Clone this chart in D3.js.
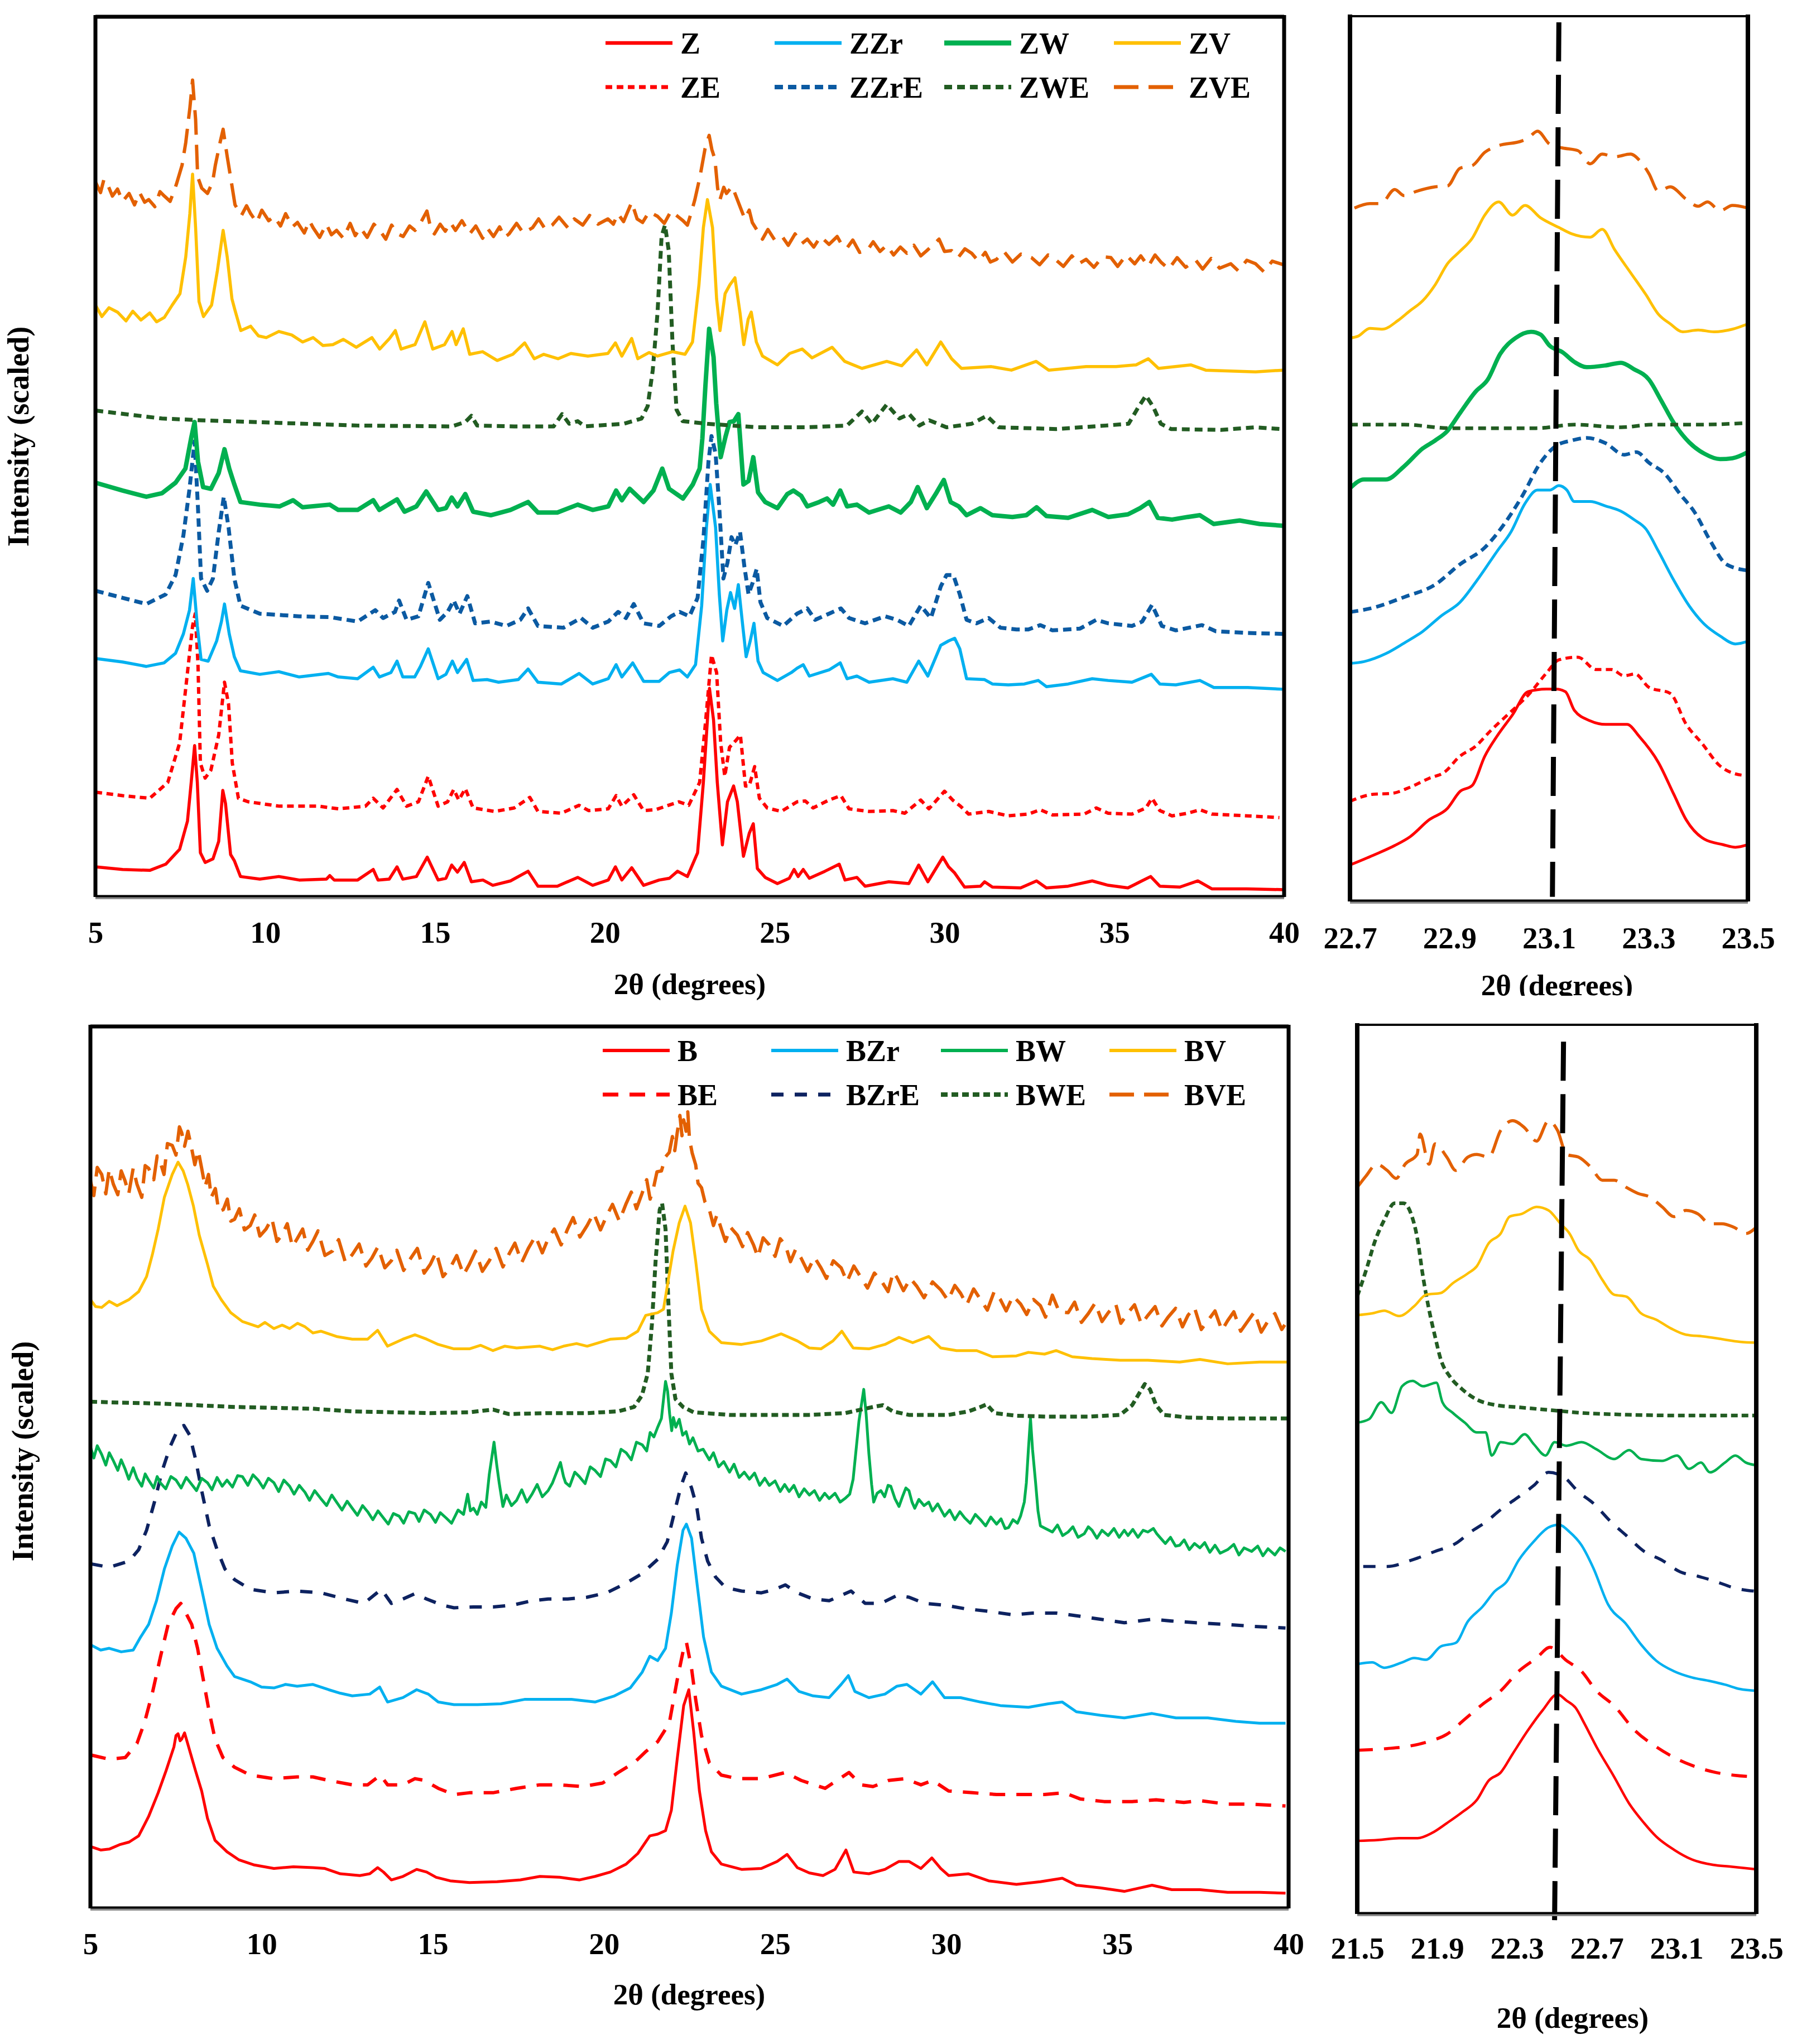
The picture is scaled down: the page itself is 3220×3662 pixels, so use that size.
<!DOCTYPE html>
<html>
<head>
<meta charset="utf-8">
<script src="https://cdn.jsdelivr.net/npm/d3@7"></script>
<style>
  body { margin: 0; background: #fff; }
  svg text { font-family: "Liberation Serif", "Times New Roman", serif; font-weight: bold; fill: #000; }
</style>
</head>
<body>
<svg id="chart" width="3220" height="3662"></svg>
<script>
// ---------------------------------------------
// DATA  (x = 2theta in degrees, y = scaled intensity, 0..100 of the panel height)
// ---------------------------------------------
const TICKS_WIDE = [5, 10, 15, 20, 25, 30, 35, 40];
const TICKS_ZOOM_Z = [22.7, 22.9, 23.1, 23.3, 23.5];
const TICKS_ZOOM_B = [21.5, 21.9, 22.3, 22.7, 23.1, 23.5];

const LEGEND_Z = ["Z", "ZZr", "ZW", "ZV", "ZE", "ZZrE", "ZWE", "ZVE"];
const LEGEND_B = ["B", "BZr", "BW", "BV", "BE", "BZrE", "BWE", "BVE"];

// --- Z family, full range
const Z = [[5.0,3.3],[5.8,3.0],[6.6,2.9],[7.07,3.6],[7.48,5.3],[7.71,8.5],[7.82,12.9],[7.92,17.1],[8.0,12.9],[8.09,4.9],[8.23,3.8],[8.46,4.2],[8.63,6.2],[8.75,12.0],[8.83,10.5],[8.98,4.7],[9.09,4.0],[9.27,2.2],[9.84,1.9],[10.4,2.2],[11.0,1.8],[11.8,1.9],[11.9,2.3],[12.03,1.8],[12.72,1.8],[13.18,3.0],[13.32,1.8],[13.65,1.9],[13.88,3.3],[14.05,1.9],[14.45,2.2],[14.77,4.4],[15.09,1.8],[15.32,2.0],[15.49,3.5],[15.66,2.7],[15.86,3.8],[16.07,1.6],[16.41,1.8],[16.7,1.2],[17.22,1.7],[17.74,2.8],[18.03,1.1],[18.6,1.1],[19.2,2.1],[19.64,1.2],[20.1,1.8],[20.31,3.3],[20.5,1.8],[20.79,3.2],[21.14,1.2],[21.6,1.8],[21.9,2.0],[22.14,2.8],[22.43,2.2],[22.73,4.9],[22.9,12.9],[23.08,23.6],[23.2,20.0],[23.31,12.9],[23.46,5.8],[23.61,10.7],[23.79,12.5],[23.9,10.7],[24.08,4.5],[24.25,7.1],[24.37,8.2],[24.49,3.1],[24.72,2.1],[25.08,1.4],[25.43,2.0],[25.57,3.0],[25.69,2.2],[25.84,3.0],[26.02,2.0],[26.48,2.8],[26.9,3.6],[27.07,1.8],[27.42,2.1],[27.66,1.1],[28.36,1.6],[28.95,1.4],[29.24,3.5],[29.51,1.6],[29.95,4.4],[30.12,3.3],[30.3,2.6],[30.59,1.0],[31.06,1.1],[31.18,1.6],[31.41,1.0],[32.24,0.9],[32.71,1.7],[33.0,0.9],[33.64,1.1],[34.35,1.7],[34.82,1.2],[35.4,0.9],[35.76,1.6],[36.07,2.2],[36.34,1.1],[36.93,1.0],[37.46,1.7],[37.87,0.8],[38.9,0.8],[40.0,0.7]];

const ZE = [[5.0,11.8],[5.8,11.4],[6.6,11.1],[7.13,12.9],[7.48,17.4],[7.71,25.4],[7.86,30.7],[7.94,32.1],[8.02,26.3],[8.09,15.1],[8.23,13.4],[8.4,14.3],[8.63,18.3],[8.8,24.3],[8.92,21.8],[9.03,15.1],[9.21,11.1],[9.5,10.7],[10.42,10.2],[11.57,10.2],[12.15,9.9],[12.95,10.2],[13.18,11.1],[13.47,10.0],[13.88,12.1],[14.16,10.2],[14.51,10.7],[14.8,13.6],[15.09,10.2],[15.37,10.7],[15.55,12.1],[15.7,10.9],[15.89,12.2],[16.12,10.0],[16.76,9.6],[17.33,10.0],[17.79,11.2],[18.03,9.6],[18.72,9.4],[19.24,10.3],[19.52,9.7],[20.1,9.9],[20.33,11.4],[20.5,10.2],[20.85,11.5],[21.14,9.7],[21.49,9.8],[22.18,10.7],[22.47,10.3],[22.79,12.9],[22.96,19.6],[23.14,27.4],[23.29,25.4],[23.41,17.4],[23.53,13.6],[23.67,16.9],[23.84,17.6],[23.99,18.3],[24.14,12.5],[24.25,12.5],[24.41,14.7],[24.55,11.1],[24.78,10.0],[25.19,9.6],[25.66,10.7],[25.9,10.8],[26.13,10.0],[26.6,10.9],[26.95,11.4],[27.19,9.9],[27.78,9.6],[28.48,9.7],[28.83,9.4],[29.3,10.9],[29.54,9.9],[30.0,11.9],[30.24,10.9],[30.47,10.2],[30.71,9.3],[31.3,9.6],[31.88,9.1],[32.47,9.3],[32.82,9.8],[33.18,9.2],[34.11,9.3],[34.47,10.0],[34.82,9.4],[35.52,9.3],[35.93,10.0],[36.11,11.1],[36.34,9.7],[36.7,9.1],[37.16,9.4],[37.52,9.8],[37.87,9.3],[38.93,9.1],[39.86,8.9]];

const ZZr = [[5.0,27.0],[5.8,26.6],[6.5,26.1],[7.02,26.5],[7.36,27.6],[7.59,29.8],[7.77,32.5],[7.88,36.1],[8.0,30.7],[8.11,26.9],[8.32,26.7],[8.57,29.0],[8.71,31.2],[8.8,33.2],[8.94,29.8],[9.09,27.2],[9.27,25.6],[9.84,25.2],[10.4,25.5],[11.0,24.9],[11.86,25.3],[12.15,24.9],[12.72,24.7],[13.18,26.0],[13.36,24.9],[13.7,25.4],[13.88,26.7],[14.05,24.9],[14.4,24.9],[14.57,26.1],[14.8,28.1],[15.09,24.7],[15.32,25.2],[15.51,26.7],[15.66,25.4],[15.93,26.9],[16.12,24.5],[16.53,24.6],[16.87,24.3],[17.45,24.6],[17.74,25.8],[18.03,24.3],[18.72,24.1],[19.24,25.3],[19.64,24.1],[20.1,24.7],[20.33,26.3],[20.5,24.9],[20.82,26.5],[21.14,24.4],[21.6,24.4],[21.9,25.4],[22.2,25.7],[22.43,24.9],[22.67,26.3],[22.85,33.0],[22.99,41.9],[23.1,46.8],[23.26,41.9],[23.37,34.3],[23.47,29.0],[23.59,32.5],[23.7,34.5],[23.82,32.7],[23.93,35.4],[24.06,30.7],[24.16,27.2],[24.28,29.0],[24.39,31.0],[24.51,26.7],[24.66,25.4],[25.08,24.5],[25.49,25.4],[25.66,25.9],[25.84,26.3],[26.02,25.0],[26.6,25.7],[26.93,26.5],[27.13,24.7],[27.42,25.0],[27.78,24.3],[28.48,24.7],[28.89,24.3],[29.24,26.7],[29.51,25.0],[29.89,28.5],[30.12,29.0],[30.3,29.3],[30.45,28.1],[30.65,24.7],[31.18,24.6],[31.41,24.1],[31.88,24.0],[32.35,24.1],[32.76,24.5],[33.0,23.8],[33.64,24.1],[34.35,24.7],[34.82,24.5],[35.52,24.3],[36.09,25.2],[36.34,24.1],[36.81,24.0],[37.52,24.5],[37.93,23.7],[38.93,23.7],[39.98,23.5]];

const ZZrE = [[5.0,34.7],[5.8,33.9],[6.5,33.2],[7.07,34.3],[7.36,36.5],[7.59,41.0],[7.77,46.3],[7.92,51.7],[8.02,44.1],[8.11,36.1],[8.29,34.7],[8.46,36.1],[8.63,41.4],[8.78,45.4],[8.92,41.9],[9.09,36.1],[9.27,33.0],[9.84,32.1],[11.0,31.8],[11.92,31.7],[12.72,31.2],[13.24,32.5],[13.47,31.6],[13.82,32.3],[13.94,33.6],[14.16,31.4],[14.51,31.8],[14.8,35.6],[15.14,31.4],[15.37,32.3],[15.55,33.6],[15.72,32.1],[15.95,34.1],[16.18,31.0],[16.64,31.2],[17.1,30.7],[17.51,31.4],[17.74,32.7],[18.03,30.7],[18.78,30.5],[19.3,31.6],[19.64,30.5],[20.1,31.2],[20.39,32.3],[20.62,31.6],[20.85,33.2],[21.14,31.0],[21.6,30.7],[21.95,31.8],[22.2,32.3],[22.49,31.8],[22.73,33.9],[22.9,40.5],[23.05,49.4],[23.14,52.3],[23.26,50.3],[23.37,44.1],[23.49,36.1],[23.61,37.9],[23.73,40.8],[23.84,39.9],[23.98,41.4],[24.11,37.4],[24.23,34.3],[24.35,35.6],[24.47,37.2],[24.58,33.4],[24.78,31.6],[25.25,30.7],[25.66,32.1],[25.96,32.7],[26.19,31.4],[26.6,32.1],[26.95,32.7],[27.19,31.6],[27.66,31.0],[28.25,31.8],[28.6,31.4],[28.95,30.7],[29.3,33.0],[29.6,31.6],[29.89,35.2],[30.06,36.5],[30.26,36.5],[30.45,34.3],[30.65,31.4],[30.94,31.0],[31.3,31.6],[31.65,30.5],[32.12,30.3],[32.47,30.3],[32.82,30.8],[33.18,30.2],[33.99,30.4],[34.47,31.4],[34.82,31.0],[35.52,30.7],[35.82,31.2],[36.11,33.1],[36.4,30.7],[36.81,30.2],[37.58,30.8],[37.99,30.1],[38.93,29.9],[39.98,29.8]];

const ZW = [[5.0,47.0],[5.8,46.1],[6.5,45.4],[6.96,45.8],[7.36,47.0],[7.65,48.6],[7.82,52.1],[7.92,53.9],[8.02,49.4],[8.17,46.5],[8.4,46.3],[8.63,48.1],[8.8,50.8],[8.94,48.6],[9.09,46.8],[9.27,44.8],[9.84,44.5],[10.42,44.3],[10.82,45.0],[11.1,44.2],[11.9,44.5],[12.15,43.9],[12.72,43.9],[13.18,45.0],[13.36,43.9],[13.88,45.1],[14.1,43.7],[14.45,44.3],[14.74,46.0],[15.09,43.9],[15.32,44.1],[15.49,45.3],[15.66,44.3],[15.89,45.7],[16.12,43.7],[16.64,43.3],[17.22,43.9],[17.74,44.8],[18.03,43.6],[18.6,43.6],[19.2,44.5],[19.64,43.9],[20.1,44.3],[20.33,46.1],[20.5,45.0],[20.73,46.3],[21.14,44.8],[21.43,46.1],[21.69,48.6],[21.89,46.3],[22.3,45.2],[22.59,46.8],[22.79,48.6],[22.87,52.0],[22.96,58.0],[23.07,64.5],[23.2,61.3],[23.28,56.0],[23.41,49.9],[23.55,52.2],[23.67,53.9],[23.8,54.0],[23.93,54.8],[24.08,46.8],[24.23,47.2],[24.37,49.9],[24.51,45.9],[24.72,44.8],[25.08,44.1],[25.37,45.7],[25.55,46.1],[25.78,45.5],[25.96,44.3],[26.31,44.8],[26.54,45.2],[26.72,44.5],[26.93,46.1],[27.13,44.3],[27.42,44.5],[27.78,43.6],[28.36,44.3],[28.71,43.6],[29.01,44.8],[29.21,46.5],[29.48,44.1],[29.77,45.9],[29.98,47.3],[30.18,44.8],[30.42,44.3],[30.65,43.3],[31.06,44.1],[31.41,43.3],[32.0,43.1],[32.41,43.3],[32.71,44.2],[33.0,43.2],[33.64,43.0],[34.35,43.9],[34.82,43.1],[35.4,43.4],[35.76,44.1],[36.03,44.8],[36.28,43.0],[36.7,42.8],[37.16,43.1],[37.52,43.3],[37.93,42.3],[38.69,42.7],[39.28,42.3],[39.98,42.1]];

const ZWE = [[5.0,55.2],[6.96,54.3],[8.11,54.1],[10.42,53.8],[12.72,53.5],[15.49,53.4],[15.89,53.9],[16.07,54.6],[16.24,53.5],[17.33,53.4],[18.49,53.4],[18.74,54.8],[18.95,53.7],[19.2,54.0],[19.41,53.4],[20.56,53.7],[21.08,54.3],[21.26,55.7],[21.41,59.8],[21.55,66.3],[21.67,75.0],[21.77,76.3],[21.88,73.4],[21.99,63.0],[22.11,55.3],[22.29,54.0],[23.02,53.7],[24.49,53.3],[25.96,53.3],[27.13,53.5],[27.57,55.1],[27.86,53.7],[28.3,55.9],[28.67,54.3],[28.96,54.8],[29.26,53.5],[29.55,54.1],[30.06,53.3],[30.8,53.7],[31.24,54.6],[31.6,53.3],[33.29,53.1],[34.76,53.5],[35.42,53.7],[35.71,55.6],[35.93,56.9],[36.15,55.6],[36.37,53.7],[36.67,53.1],[38.13,53.0],[39.16,53.3],[39.9,53.1]];

const ZV = [[5.0,67.2],[5.19,65.9],[5.4,66.9],[5.65,66.4],[5.9,65.4],[6.1,66.5],[6.34,65.5],[6.6,66.3],[6.8,65.3],[7.03,65.8],[7.26,67.2],[7.49,68.5],[7.66,72.7],[7.78,77.6],[7.86,82.1],[7.95,76.0],[8.05,67.6],[8.18,65.9],[8.42,67.2],[8.59,71.1],[8.76,75.7],[8.88,72.7],[9.02,67.9],[9.11,66.6],[9.28,64.3],[9.57,64.8],[9.8,63.7],[10.03,63.5],[10.4,64.2],[10.78,63.8],[11.1,63.0],[11.41,63.5],[11.7,62.6],[11.99,62.7],[12.3,63.3],[12.68,62.4],[13.14,63.5],[13.37,62.2],[13.66,63.4],[13.83,64.3],[14.0,62.2],[14.41,62.7],[14.7,65.3],[14.93,62.2],[15.28,62.7],[15.5,64.2],[15.62,62.7],[15.83,64.5],[16.02,61.6],[16.4,61.9],[16.83,60.9],[17.29,61.6],[17.64,62.9],[17.92,61.1],[18.2,61.6],[18.62,61.1],[19.0,61.7],[19.5,61.4],[20.09,61.7],[20.31,62.9],[20.5,61.4],[20.79,63.4],[20.97,61.1],[21.3,61.8],[21.55,61.4],[21.99,61.9],[22.36,61.6],[22.58,63.0],[22.77,69.5],[22.9,76.0],[23.02,79.2],[23.17,76.0],[23.29,67.9],[23.39,64.3],[23.54,68.5],[23.68,69.5],[23.83,70.3],[23.98,66.3],[24.09,62.7],[24.22,65.6],[24.31,66.4],[24.46,63.0],[24.64,61.4],[25.08,60.4],[25.44,61.7],[25.81,62.2],[26.1,61.2],[26.69,62.4],[27.06,60.8],[27.57,60.0],[28.3,60.8],[28.74,60.3],[29.18,62.1],[29.48,60.4],[29.89,63.0],[30.21,61.1],[30.5,60.0],[31.38,60.2],[31.97,59.8],[32.7,60.8],[33.07,59.8],[34.17,60.2],[35.05,60.2],[35.64,60.4],[36.0,61.1],[36.3,60.0],[37.25,60.4],[37.69,59.8],[39.16,59.6],[39.97,59.8]];

const ZVE = [[5.0,81.2],[5.15,80.0],[5.25,81.5],[5.36,80.9],[5.5,79.6],[5.65,80.4],[5.8,79.0],[5.99,79.9],[6.15,78.6],[6.3,80.0],[6.45,78.9],[6.57,79.2],[6.75,78.4],[6.9,80.1],[7.03,79.6],[7.2,79.0],[7.38,80.9],[7.55,83.1],[7.66,85.7],[7.78,89.6],[7.86,92.8],[7.95,88.3],[8.01,81.8],[8.13,80.5],[8.3,79.9],[8.45,81.2],[8.53,83.1],[8.67,85.7],[8.76,87.2],[8.88,84.1],[8.99,81.5],[9.11,78.6],[9.3,77.4],[9.45,78.5],[9.57,77.6],[9.75,76.6],[9.9,78.0],[10.1,76.8],[10.26,77.3],[10.45,76.2],[10.6,77.6],[10.8,76.1],[10.95,76.6],[11.15,75.4],[11.3,76.8],[11.41,76.0],[11.6,74.9],[11.8,76.4],[11.95,75.2],[12.1,75.7],[12.3,74.8],[12.5,76.5],[12.65,75.1],[12.8,76.0],[13.0,74.9],[13.2,76.4],[13.37,75.7],[13.55,74.7],[13.72,76.3],[13.9,75.3],[14.06,75.0],[14.25,76.2],[14.41,75.7],[14.58,76.6],[14.76,77.9],[14.88,75.8],[14.98,75.3],[15.15,76.4],[15.3,75.6],[15.45,76.6],[15.6,75.7],[15.79,76.8],[16.02,75.3],[16.2,76.2],[16.4,74.8],[16.55,75.9],[16.72,75.0],[16.9,76.1],[17.05,74.9],[17.18,75.3],[17.4,76.5],[17.6,75.4],[17.87,76.0],[18.05,77.0],[18.25,75.8],[18.45,76.3],[18.65,77.2],[18.91,76.0],[19.1,77.0],[19.35,76.3],[19.55,77.4],[19.8,76.4],[20.09,77.0],[20.25,76.4],[20.38,77.6],[20.55,76.7],[20.79,78.9],[20.95,77.0],[21.11,76.6],[21.3,77.8],[21.55,77.3],[21.75,76.5],[21.95,77.9],[22.14,77.3],[22.3,76.8],[22.43,76.3],[22.55,77.8],[22.65,79.2],[22.8,81.8],[22.95,85.0],[23.07,86.5],[23.15,84.9],[23.24,83.8],[23.32,80.5],[23.39,79.2],[23.5,80.6],[23.58,79.9],[23.75,80.7],[23.9,79.2],[24.0,78.2],[24.12,77.0],[24.25,78.0],[24.34,76.6],[24.5,75.6],[24.64,74.7],[24.8,75.8],[25.0,74.6],[25.22,75.0],[25.4,74.0],[25.6,75.3],[25.8,74.2],[25.96,74.7],[26.15,73.8],[26.35,75.0],[26.6,74.1],[26.84,75.0],[27.0,73.9],[27.13,73.7],[27.3,74.6],[27.5,73.2],[27.72,73.4],[27.9,74.4],[28.1,73.3],[28.3,74.0],[28.5,72.9],[28.7,73.8],[28.89,73.1],[29.1,74.0],[29.3,72.8],[29.48,73.4],[29.65,74.0],[29.84,74.7],[30.0,73.3],[30.21,73.4],[30.4,72.6],[30.6,73.6],[30.8,73.1],[31.0,72.2],[31.2,73.2],[31.35,72.1],[31.53,72.4],[31.75,73.3],[32.0,72.1],[32.25,73.0],[32.56,72.6],[32.8,71.8],[33.05,72.9],[33.29,72.3],[33.5,71.6],[33.75,72.8],[33.95,71.9],[34.17,72.4],[34.4,71.5],[34.65,72.7],[34.9,72.6],[35.1,71.6],[35.35,72.9],[35.6,71.9],[35.78,72.8],[36.0,71.6],[36.2,72.9],[36.37,72.1],[36.6,71.3],[36.85,72.6],[37.1,71.5],[37.4,72.3],[37.6,71.3],[37.85,72.5],[38.1,71.4],[38.43,71.9],[38.65,71.1],[38.9,72.3],[39.16,71.9],[39.4,71.0],[39.65,72.2],[39.97,71.8]];

// --- Z family, 22.7-23.5 close-up
const Z_ZOOM = [[22.7,4.0],[22.747,5.1],[22.79,6.2],[22.821,7.2],[22.859,9.1],[22.896,10.4],[22.921,12.3],[22.946,13.0],[22.971,16.3],[22.996,18.6],[23.027,21.0],[23.058,23.6],[23.095,23.9],[23.114,23.9],[23.133,23.6],[23.151,21.5],[23.183,20.3],[23.214,19.9],[23.257,19.9],[23.282,18.5],[23.32,15.6],[23.351,12.0],[23.376,9.1],[23.413,6.9],[23.45,6.3],[23.475,6.0],[23.5,6.3]];
const ZE_ZOOM = [[22.7,11.2],[22.747,12.0],[22.784,12.1],[22.821,12.8],[22.859,13.8],[22.89,14.5],[22.921,16.3],[22.952,17.4],[22.983,19.2],[23.021,21.2],[23.058,23.2],[23.095,25.7],[23.12,27.2],[23.158,27.5],[23.195,26.1],[23.226,26.1],[23.251,25.4],[23.273,25.6],[23.301,24.1],[23.344,23.4],[23.376,19.9],[23.407,17.8],[23.444,15.2],[23.475,14.3],[23.5,14.1]];
const ZZr_ZOOM = [[22.7,26.8],[22.728,27.0],[22.772,27.9],[22.809,29.1],[22.846,30.4],[22.884,32.2],[22.921,33.7],[22.958,36.4],[22.996,39.5],[23.024,41.7],[23.052,44.9],[23.077,46.4],[23.102,46.4],[23.12,46.9],[23.136,46.4],[23.151,45.1],[23.183,45.1],[23.214,44.6],[23.245,44.0],[23.27,43.1],[23.295,42.0],[23.32,39.5],[23.351,36.2],[23.382,33.3],[23.413,31.2],[23.444,29.9],[23.475,29.0],[23.5,29.3]];
const ZZrE_ZOOM = [[22.7,32.6],[22.747,33.1],[22.809,34.3],[22.871,35.7],[22.921,38.0],[22.971,39.9],[23.008,42.4],[23.046,45.7],[23.083,49.5],[23.114,51.4],[23.145,52.0],[23.176,52.3],[23.214,51.7],[23.251,50.4],[23.276,50.7],[23.301,49.5],[23.332,48.3],[23.363,46.0],[23.394,43.8],[23.425,40.6],[23.457,38.0],[23.5,37.3]];
const ZW_ZOOM = [[22.7,46.6],[22.728,47.6],[22.772,47.6],[22.809,49.1],[22.846,51.1],[22.871,52.0],[22.896,53.1],[22.921,55.1],[22.952,57.5],[22.977,58.9],[23.002,61.8],[23.033,63.6],[23.064,64.3],[23.083,64.0],[23.102,62.7],[23.127,62.0],[23.151,60.9],[23.176,60.3],[23.214,60.5],[23.245,60.8],[23.27,60.1],[23.301,58.9],[23.326,56.5],[23.351,54.0],[23.382,51.8],[23.413,50.5],[23.444,49.9],[23.469,50.0],[23.5,50.7]];
const ZWE_ZOOM = [[22.7,53.8],[22.809,53.8],[22.902,53.4],[23.074,53.4],[23.151,53.8],[23.245,53.5],[23.307,53.8],[23.4,53.8],[23.5,54.0]];
const ZV_ZOOM = [[22.7,63.6],[22.716,63.8],[22.74,64.7],[22.765,64.6],[22.797,65.6],[22.821,66.7],[22.846,67.8],[22.871,69.6],[22.896,72.0],[22.921,73.4],[22.946,74.9],[22.971,77.5],[22.999,79.0],[23.027,77.5],[23.052,78.6],[23.083,77.2],[23.12,76.1],[23.145,75.4],[23.183,75.0],[23.207,75.9],[23.232,73.6],[23.264,71.0],[23.295,68.5],[23.32,66.3],[23.344,65.2],[23.369,64.3],[23.4,64.5],[23.432,64.3],[23.469,64.6],[23.5,65.2]];
const ZVE_ZOOM = [[22.709,78.3],[22.74,78.8],[22.762,78.8],[22.79,80.4],[22.809,79.7],[22.834,80.2],[22.871,80.7],[22.896,80.8],[22.921,82.8],[22.946,83.1],[22.971,84.6],[22.996,85.3],[23.046,85.9],[23.058,86.2],[23.077,87.0],[23.102,85.5],[23.127,85.1],[23.158,84.8],[23.183,83.3],[23.207,84.4],[23.232,84.1],[23.264,84.4],[23.282,83.7],[23.301,82.2],[23.32,80.2],[23.344,80.7],[23.376,79.3],[23.4,78.5],[23.419,79.0],[23.444,78.0],[23.469,78.6],[23.5,78.3]];
const REF_Z = [[23.12, 99.3], [23.107, 0.4]];

// --- B family, full range
const B = [[5.0,6.9],[5.3,6.5],[5.55,6.6],[5.85,7.1],[6.13,7.4],[6.41,8.1],[6.7,10.3],[6.98,13.0],[7.21,15.5],[7.44,18.2],[7.5,19.5],[7.56,19.7],[7.62,18.9],[7.67,19.1],[7.75,19.8],[7.84,18.6],[8.07,15.5],[8.25,13.2],[8.42,10.1],[8.64,7.6],[8.99,6.3],[9.33,5.4],[9.79,4.8],[10.36,4.4],[10.93,4.6],[11.5,4.5],[11.85,4.4],[12.3,3.8],[12.87,3.6],[13.16,3.8],[13.39,4.5],[13.56,4.0],[13.79,3.1],[14.13,3.5],[14.53,4.3],[14.82,4.0],[15.1,3.4],[15.51,3.0],[16.07,2.8],[16.88,2.9],[17.56,3.1],[18.13,3.5],[18.71,3.4],[19.28,3.1],[19.74,3.5],[20.19,4.0],[20.65,4.9],[20.99,6.1],[21.34,8.1],[21.57,8.3],[21.8,8.7],[21.97,11.0],[22.14,16.8],[22.33,22.9],[22.48,24.7],[22.62,20.0],[22.79,13.2],[22.97,8.7],[23.14,6.3],[23.43,4.9],[24.02,4.3],[24.6,4.4],[25.06,5.2],[25.35,6.0],[25.65,4.5],[26.0,3.9],[26.4,3.6],[26.75,4.3],[27.07,6.5],[27.3,4.0],[27.74,3.8],[28.21,4.3],[28.62,5.2],[28.91,5.2],[29.26,4.4],[29.58,5.6],[29.84,4.4],[30.07,3.6],[30.65,3.8],[31.24,3.0],[32.05,2.6],[32.75,2.9],[33.39,3.3],[33.8,2.5],[34.5,2.2],[35.2,1.8],[36.01,2.5],[36.59,2.0],[37.41,2.0],[38.22,1.7],[39.15,1.7],[39.91,1.6]];

const BE = [[5.0,17.3],[5.55,16.8],[6.02,17.0],[6.36,18.6],[6.59,21.1],[6.82,24.5],[7.05,28.5],[7.27,32.1],[7.5,33.9],[7.64,34.5],[7.79,33.4],[7.96,32.1],[8.13,29.4],[8.3,25.8],[8.47,22.2],[8.64,19.1],[8.87,17.0],[9.21,15.9],[9.67,15.0],[10.36,14.6],[11.04,14.8],[11.5,14.8],[11.96,14.4],[12.65,13.9],[13.1,13.9],[13.47,15.0],[13.68,13.9],[14.13,13.9],[14.48,14.6],[14.76,14.4],[15.16,13.5],[15.62,12.8],[16.07,13.0],[16.76,13.0],[17.45,13.5],[18.13,13.9],[18.71,13.9],[19.39,13.7],[19.96,14.1],[20.42,15.3],[20.88,16.4],[21.23,17.7],[21.57,18.8],[21.91,20.9],[22.14,25.8],[22.33,29.4],[22.41,30.1],[22.56,27.1],[22.68,23.6],[22.85,19.5],[23.08,16.4],[23.43,15.0],[23.9,14.6],[24.6,14.6],[25.3,15.3],[25.76,14.4],[26.46,13.5],[26.81,14.4],[27.16,15.3],[27.51,13.9],[27.86,13.7],[28.32,14.4],[28.79,14.6],[29.26,13.9],[29.6,14.4],[30.07,13.2],[30.77,13.0],[31.47,12.8],[32.17,12.8],[32.87,12.8],[33.45,13.0],[33.91,12.3],[34.61,12.0],[35.43,12.0],[36.13,12.2],[36.94,11.9],[37.41,12.1],[38.22,11.7],[38.92,11.7],[39.91,11.5]];

const BZr = [[5.0,29.8],[5.3,29.2],[5.55,29.4],[5.9,29.0],[6.25,29.2],[6.47,30.7],[6.7,32.1],[6.93,34.8],[7.16,38.4],[7.39,41.0],[7.59,42.6],[7.79,41.9],[8.02,40.2],[8.25,36.1],[8.47,32.1],[8.7,29.4],[8.99,27.4],[9.21,26.2],[9.67,25.6],[10.0,25.0],[10.36,24.9],[10.7,25.3],[11.04,25.1],[11.5,25.3],[11.96,24.7],[12.3,24.3],[12.65,24.0],[13.16,24.2],[13.45,25.0],[13.68,23.3],[14.13,23.8],[14.53,24.7],[14.87,24.2],[15.16,23.3],[15.62,23.0],[16.31,23.0],[16.99,23.1],[17.68,23.6],[18.37,23.6],[19.05,23.6],[19.74,23.3],[20.31,24.0],[20.77,24.9],[21.12,26.7],[21.34,28.5],[21.57,28.0],[21.8,29.4],[21.97,33.4],[22.14,38.8],[22.31,42.8],[22.41,43.5],[22.56,41.9],[22.74,36.1],[22.91,30.7],[23.14,26.7],[23.43,25.1],[24.02,24.2],[24.6,24.7],[25.06,25.3],[25.35,25.9],[25.7,24.5],[26.11,24.0],[26.58,23.8],[26.93,25.3],[27.14,26.3],[27.33,24.5],[27.74,23.8],[28.21,24.2],[28.56,25.1],[28.85,25.3],[29.26,24.2],[29.6,25.6],[29.95,23.8],[30.42,23.8],[31.0,23.3],[31.58,22.9],[32.4,22.7],[32.98,23.1],[33.39,23.3],[33.8,22.2],[34.5,21.8],[35.2,21.5],[36.01,22.0],[36.71,21.5],[37.64,21.5],[38.46,21.1],[39.15,20.9],[39.91,20.9]];

const BZrE = [[5.0,39.0],[5.55,38.6],[6.13,39.3],[6.41,40.6],[6.64,42.8],[6.87,46.0],[7.1,49.6],[7.33,52.3],[7.56,54.3],[7.73,54.7],[7.9,53.6],[8.07,50.9],[8.25,47.3],[8.47,43.3],[8.7,40.6],[8.93,38.4],[9.21,37.2],[9.67,36.1],[10.36,35.7],[11.04,35.9],[11.73,35.7],[12.42,35.0],[12.99,34.5],[13.5,36.1],[13.79,34.5],[14.13,35.0],[14.48,35.6],[14.82,35.0],[15.28,34.3],[15.62,34.0],[16.19,34.1],[16.76,34.1],[17.33,34.3],[17.9,34.8],[18.37,35.0],[18.94,35.0],[19.51,35.2],[20.08,35.7],[20.65,36.8],[21.12,37.9],[21.57,39.5],[21.85,41.5],[22.02,44.2],[22.25,47.8],[22.39,49.3],[22.56,47.6],[22.71,45.5],[22.85,41.9],[23.03,39.3],[23.26,37.5],[23.55,36.3],[24.02,35.9],[24.6,35.7],[25.0,36.1],[25.3,36.6],[25.65,35.7],[26.11,35.0],[26.58,34.8],[26.93,35.4],[27.22,35.9],[27.63,34.5],[28.09,34.5],[28.56,35.4],[28.91,35.2],[29.37,34.5],[29.95,34.3],[30.54,33.9],[31.24,33.6],[31.94,33.2],[32.52,33.4],[33.21,33.4],[33.8,33.1],[34.5,32.7],[35.2,32.3],[36.01,32.7],[36.59,32.5],[37.29,32.3],[38.22,32.1],[38.92,31.9],[39.91,31.7]];

const BW = [[5.0,52.3],[5.1,51.0],[5.2,52.4],[5.33,51.4],[5.45,50.2],[5.55,51.6],[5.67,50.7],[5.8,49.6],[5.9,50.8],[6.01,49.8],[6.12,48.6],[6.25,49.9],[6.36,48.7],[6.5,47.8],[6.6,49.2],[6.7,48.5],[6.85,47.6],[6.95,48.9],[7.04,48.2],[7.2,47.5],[7.35,48.9],[7.5,48.5],[7.65,47.6],[7.8,48.8],[7.96,48.0],[8.1,47.3],[8.25,48.7],[8.42,48.2],[8.55,47.4],[8.7,48.8],[8.85,47.8],[8.99,48.5],[9.15,47.7],[9.3,49.0],[9.44,48.9],[9.6,47.9],[9.75,49.1],[9.9,48.5],[10.05,47.6],[10.2,48.7],[10.36,48.2],[10.5,47.2],[10.65,48.5],[10.82,47.8],[10.95,46.9],[11.1,47.9],[11.27,47.1],[11.4,46.2],[11.55,47.3],[11.73,46.4],[11.9,45.6],[12.05,46.8],[12.19,46.0],[12.35,45.1],[12.5,46.1],[12.65,45.3],[12.8,44.5],[12.95,45.6],[13.1,44.9],[13.25,44.0],[13.4,45.0],[13.56,44.2],[13.7,43.5],[13.85,44.7],[14.02,44.4],[14.15,43.6],[14.3,44.9],[14.48,44.7],[14.6,43.8],[14.75,45.1],[14.93,44.6],[15.08,43.7],[15.22,44.8],[15.39,44.2],[15.55,43.6],[15.74,45.1],[15.9,44.6],[16.02,46.9],[16.1,45.0],[16.19,45.3],[16.3,44.6],[16.42,46.0],[16.55,45.4],[16.65,49.1],[16.79,52.8],[16.87,50.2],[16.94,48.2],[17.05,45.5],[17.15,46.8],[17.3,45.6],[17.45,46.2],[17.6,47.4],[17.75,46.0],[17.9,46.9],[18.05,48.0],[18.2,46.6],[18.37,47.3],[18.5,48.2],[18.59,49.1],[18.73,50.5],[18.82,48.9],[18.88,48.2],[19.0,47.8],[19.15,49.4],[19.28,48.9],[19.45,48.1],[19.6,50.0],[19.74,49.6],[19.9,48.9],[20.05,50.9],[20.19,50.7],[20.35,50.0],[20.5,52.0],[20.65,51.6],[20.8,50.8],[20.95,52.8],[21.12,52.5],[21.25,51.8],[21.35,53.9],[21.46,53.4],[21.56,54.4],[21.68,55.5],[21.75,58.0],[21.8,59.7],[21.86,58.6],[21.92,56.0],[21.98,54.1],[22.03,55.6],[22.1,54.5],[22.2,55.4],[22.3,53.6],[22.4,54.0],[22.5,52.6],[22.6,53.3],[22.75,51.8],[22.9,52.0],[23.08,50.8],[23.2,51.6],[23.35,50.0],[23.5,50.6],[23.67,49.4],[23.8,50.3],[23.95,48.8],[24.1,49.4],[24.25,48.6],[24.4,49.3],[24.55,47.9],[24.7,48.7],[24.83,47.9],[25.0,48.4],[25.15,47.2],[25.28,48.0],[25.41,47.2],[25.55,47.9],[25.7,46.6],[25.85,47.5],[26.0,46.8],[26.15,47.3],[26.3,46.2],[26.45,47.0],[26.58,46.4],[26.75,47.0],[26.9,46.0],[27.04,46.4],[27.18,46.9],[27.28,48.6],[27.45,55.2],[27.59,58.8],[27.66,56.0],[27.74,51.5],[27.82,48.0],[27.88,46.0],[27.98,47.0],[28.09,47.3],[28.2,46.6],[28.3,47.9],[28.38,47.8],[28.5,46.4],[28.62,45.5],[28.72,46.6],[28.82,47.6],[28.91,47.3],[29.0,46.0],[29.08,45.3],[29.2,46.3],[29.35,45.6],[29.49,46.0],[29.6,45.0],[29.75,45.8],[29.95,44.4],[30.1,45.1],[30.25,44.0],[30.4,44.9],[30.54,44.2],[30.7,43.6],[30.85,44.6],[31.0,44.0],[31.15,43.3],[31.3,44.3],[31.47,43.5],[31.6,44.1],[31.72,43.0],[31.82,43.1],[31.95,44.0],[32.08,43.6],[32.17,44.4],[32.28,46.0],[32.34,48.2],[32.4,52.0],[32.46,55.5],[32.52,52.0],[32.61,48.2],[32.68,45.0],[32.75,43.3],[32.9,43.0],[33.1,42.6],[33.25,43.4],[33.4,42.2],[33.56,42.6],[33.7,43.2],[33.85,42.0],[34.03,42.4],[34.15,43.2],[34.26,42.8],[34.4,41.9],[34.55,42.8],[34.73,42.2],[34.9,43.0],[35.05,42.0],[35.2,42.8],[35.31,42.2],[35.45,42.9],[35.6,42.0],[35.75,42.8],[35.89,42.6],[36.05,43.0],[36.15,42.4],[36.24,42.0],[36.4,41.3],[36.55,42.0],[36.7,41.0],[36.82,41.1],[36.95,41.7],[37.1,40.6],[37.25,41.3],[37.41,40.8],[37.55,41.4],[37.7,40.3],[37.85,41.1],[38.0,40.2],[38.22,40.6],[38.4,41.2],[38.55,40.0],[38.7,40.8],[38.92,40.4],[39.1,41.0],[39.25,39.9],[39.4,40.7],[39.6,40.0],[39.75,40.8],[39.91,40.4]];

const BWE = [[5.0,57.4],[5.78,57.3],[6.93,57.2],[8.07,57.0],[9.21,56.8],[10.36,56.7],[11.5,56.6],[12.65,56.3],[13.79,56.2],[14.93,56.1],[16.07,56.2],[16.76,56.5],[17.22,56.0],[18.37,56.1],[19.51,56.1],[20.42,56.3],[20.88,56.8],[21.11,58.1],[21.28,60.6],[21.4,66.1],[21.51,73.4],[21.63,79.2],[21.7,79.9],[21.8,77.0],[21.89,67.9],[21.97,60.6],[22.09,57.7],[22.31,56.8],[22.62,56.2],[23.67,55.9],[24.83,55.9],[25.99,55.9],[27.04,56.1],[27.51,56.5],[27.86,56.8],[28.15,57.0],[28.44,56.3],[28.91,55.9],[30.07,55.9],[30.65,56.3],[31.0,56.8],[31.18,57.1],[31.41,56.1],[32.05,55.8],[32.98,55.7],[34.15,55.7],[35.08,55.9],[35.43,57.0],[35.66,58.5],[35.8,59.4],[35.95,58.8],[36.13,57.0],[36.36,55.9],[37.06,55.6],[38.22,55.5],[39.97,55.5]];

const BV = [[5.0,69.0],[5.15,68.2],[5.33,68.1],[5.55,68.8],[5.78,68.3],[6.13,69.0],[6.41,69.9],[6.64,71.6],[6.81,74.1],[6.98,77.0],[7.16,80.6],[7.39,83.2],[7.56,84.6],[7.71,83.6],[7.84,82.1],[8.01,79.6],[8.18,76.3],[8.42,73.0],[8.59,70.5],[8.82,69.0],[9.1,67.5],[9.44,66.5],[9.9,65.9],[10.1,66.4],[10.36,65.7],[10.6,66.1],[10.82,65.7],[11.05,66.3],[11.27,65.9],[11.5,65.2],[11.73,65.4],[12.19,64.8],[12.65,64.5],[13.1,64.5],[13.39,65.5],[13.68,63.7],[14.13,64.5],[14.48,65.0],[14.82,64.5],[15.16,63.9],[15.62,63.4],[16.07,63.4],[16.4,63.8],[16.76,63.2],[17.1,63.7],[17.45,63.5],[18.13,63.7],[18.5,63.3],[18.82,63.7],[19.2,64.0],[19.51,63.7],[20.2,64.5],[20.65,64.6],[20.99,65.4],[21.22,67.2],[21.57,67.5],[21.74,67.9],[21.85,70.5],[22.02,74.5],[22.2,77.7],[22.37,79.6],[22.53,77.7],[22.68,73.4],[22.85,67.9],[23.08,65.4],[23.43,64.1],[24.02,63.9],[24.6,64.3],[25.18,65.1],[25.65,64.3],[26.0,63.5],[26.34,63.4],[26.69,64.3],[26.95,65.4],[27.28,63.5],[27.74,63.4],[28.21,63.9],[28.62,64.7],[29.02,64.1],[29.49,64.8],[29.84,63.5],[30.3,63.2],[30.89,63.2],[31.35,62.5],[32.05,62.6],[32.4,63.0],[32.87,62.8],[33.21,63.2],[33.68,62.5],[34.26,62.3],[35.08,62.1],[35.89,62.1],[36.82,61.9],[37.41,62.2],[38.22,61.7],[39.15,61.9],[39.97,61.9]];

const BVE = [[5.0,82.5],[5.1,80.8],[5.2,84.0],[5.33,83.2],[5.45,81.0],[5.55,83.8],[5.67,82.1],[5.8,80.9],[5.9,83.6],[6.01,82.5],[6.12,81.0],[6.25,83.9],[6.36,82.1],[6.5,80.6],[6.6,84.2],[6.7,83.9],[6.85,82.6],[6.95,85.3],[7.04,84.6],[7.15,83.2],[7.25,86.7],[7.39,86.5],[7.5,85.4],[7.6,88.6],[7.67,87.9],[7.75,86.4],[7.85,88.1],[7.96,86.1],[8.05,84.3],[8.15,85.9],[8.25,83.9],[8.35,81.8],[8.45,83.2],[8.53,80.6],[8.65,81.6],[8.75,79.0],[8.88,79.2],[9.0,80.4],[9.1,77.9],[9.21,78.1],[9.35,79.3],[9.5,76.9],[9.67,77.4],[9.8,78.6],[9.95,76.2],[10.13,77.0],[10.3,78.2],[10.45,75.6],[10.59,76.3],[10.75,77.6],[10.9,75.0],[11.04,75.9],[11.2,77.0],[11.35,74.6],[11.5,75.6],[11.65,76.8],[11.85,74.0],[12.07,74.5],[12.25,75.8],[12.45,73.2],[12.65,74.1],[12.85,75.3],[13.05,72.8],[13.22,73.7],[13.4,75.0],[13.6,72.6],[13.79,73.4],[13.95,74.6],[14.15,72.3],[14.36,73.7],[14.55,74.8],[14.75,72.0],[14.93,73.0],[15.1,74.4],[15.3,71.6],[15.51,72.6],[15.7,74.0],[15.9,71.8],[16.07,73.0],[16.25,74.5],[16.45,72.2],[16.65,73.4],[16.85,74.8],[17.05,72.7],[17.22,74.1],[17.4,75.4],[17.6,73.2],[17.79,74.8],[18.0,76.2],[18.2,74.3],[18.37,75.9],[18.55,77.0],[18.75,75.2],[18.94,77.0],[19.1,78.3],[19.3,76.1],[19.51,77.4],[19.7,78.8],[19.9,76.9],[20.08,78.5],[20.25,79.8],[20.45,77.9],[20.65,79.9],[20.8,81.2],[20.95,79.3],[21.11,81.0],[21.25,82.6],[21.35,80.4],[21.45,81.7],[21.55,83.5],[21.68,83.6],[21.8,85.2],[21.91,85.7],[22.0,87.5],[22.07,85.9],[22.14,87.9],[22.22,89.9],[22.28,87.6],[22.33,89.4],[22.4,88.1],[22.45,90.3],[22.5,87.2],[22.58,85.6],[22.68,84.3],[22.75,82.2],[22.85,81.7],[22.95,80.1],[23.08,79.2],[23.2,77.4],[23.3,78.6],[23.43,77.0],[23.55,75.6],[23.7,77.2],[23.9,76.3],[24.05,75.0],[24.2,76.6],[24.37,75.2],[24.5,73.8],[24.65,76.0],[24.83,75.2],[25.0,73.9],[25.15,75.9],[25.3,75.2],[25.45,73.3],[25.6,74.7],[25.76,73.7],[25.95,72.2],[26.15,73.8],[26.34,72.6],[26.5,71.4],[26.7,73.4],[26.93,72.6],[27.1,71.0],[27.3,72.8],[27.51,71.5],[27.7,70.3],[27.9,72.0],[28.09,71.2],[28.3,69.9],[28.45,72.1],[28.56,71.5],[28.75,70.0],[28.95,71.4],[29.14,70.5],[29.35,69.2],[29.6,71.0],[29.84,70.1],[30.05,68.9],[30.25,70.6],[30.42,69.7],[30.6,68.4],[30.8,70.2],[31.0,69.0],[31.2,67.8],[31.4,69.9],[31.58,69.0],[31.75,67.7],[31.95,69.4],[32.17,68.5],[32.35,67.3],[32.55,69.0],[32.75,68.3],[32.9,67.0],[33.1,69.5],[33.3,67.6],[33.56,67.5],[33.75,68.7],[33.95,66.4],[34.15,67.4],[34.35,68.6],[34.55,66.5],[34.73,67.5],[34.95,68.5],[35.1,66.3],[35.31,67.5],[35.5,68.4],[35.7,66.2],[35.89,67.2],[36.1,68.2],[36.3,66.0],[36.48,67.0],[36.7,68.0],[36.9,65.9],[37.06,67.2],[37.25,68.1],[37.45,65.6],[37.64,66.6],[37.85,67.7],[38.05,65.5],[38.22,66.6],[38.4,67.6],[38.6,65.4],[38.8,66.5],[39.0,67.6],[39.2,65.3],[39.39,66.5],[39.6,67.4],[39.8,65.6],[39.97,66.6]];

// --- B family, 21.5-23.5 close-up
const B_ZOOM = [[21.5,8.1],[21.605,8.2],[21.71,8.4],[21.8,8.4],[21.875,9.0],[21.949,10.1],[22.024,11.3],[22.099,12.7],[22.159,14.9],[22.219,15.8],[22.279,17.9],[22.354,20.5],[22.429,22.8],[22.504,24.6],[22.549,23.9],[22.594,23.1],[22.639,21.3],[22.699,18.7],[22.788,15.3],[22.863,12.3],[22.938,10.1],[22.998,8.6],[23.088,7.1],[23.178,6.0],[23.283,5.4],[23.373,5.2],[23.5,4.9]];
const BE_ZOOM = [[21.5,18.3],[21.65,18.5],[21.74,18.7],[21.86,19.3],[21.949,20.1],[22.039,21.8],[22.129,23.5],[22.219,25.0],[22.309,27.2],[22.399,28.7],[22.466,29.9],[22.549,28.4],[22.624,27.2],[22.699,25.0],[22.788,23.3],[22.893,20.5],[22.998,18.7],[23.088,17.5],[23.178,16.6],[23.298,15.8],[23.388,15.5],[23.5,15.3]];
const BZr_ZOOM = [[21.5,28.0],[21.575,28.2],[21.635,27.6],[21.725,28.2],[21.785,28.7],[21.845,28.5],[21.919,30.0],[21.994,30.4],[22.054,32.8],[22.129,34.5],[22.189,36.2],[22.249,37.3],[22.309,39.7],[22.384,41.8],[22.459,43.4],[22.511,43.7],[22.564,42.9],[22.624,41.4],[22.684,38.8],[22.758,34.7],[22.848,32.5],[22.923,30.2],[22.998,28.4],[23.088,27.2],[23.178,26.5],[23.268,26.1],[23.343,25.7],[23.418,25.2],[23.5,25.0]];
const BZrE_ZOOM = [[21.53,39.0],[21.65,39.0],[21.77,39.7],[21.89,40.7],[21.994,41.6],[22.069,42.9],[22.144,44.0],[22.219,45.4],[22.294,46.6],[22.384,48.1],[22.459,49.6],[22.534,49.1],[22.609,47.4],[22.684,46.1],[22.773,44.0],[22.848,42.5],[22.938,40.7],[23.028,39.7],[23.118,38.4],[23.208,37.9],[23.298,37.3],[23.388,36.6],[23.5,36.2]];
const BW_ZOOM = [[21.5,55.2],[21.56,55.6],[21.62,57.5],[21.672,56.3],[21.725,59.3],[21.777,59.9],[21.83,59.3],[21.897,59.7],[21.927,57.5],[21.979,56.3],[22.039,55.2],[22.099,54.1],[22.144,54.1],[22.174,51.5],[22.219,53.0],[22.279,52.8],[22.339,53.9],[22.384,52.8],[22.444,51.5],[22.489,53.0],[22.549,52.6],[22.624,53.0],[22.699,52.2],[22.788,51.1],[22.863,52.1],[22.923,51.1],[23.028,50.9],[23.103,51.5],[23.163,50.0],[23.223,50.7],[23.268,49.6],[23.343,50.7],[23.395,51.5],[23.448,50.7],[23.5,50.4]];
const BWE_ZOOM = [[21.5,69.4],[21.545,72.4],[21.59,75.7],[21.635,78.0],[21.687,79.9],[21.732,79.9],[21.77,78.7],[21.8,76.1],[21.83,71.6],[21.86,67.9],[21.89,64.9],[21.919,62.3],[21.964,60.4],[22.024,59.0],[22.099,57.8],[22.189,57.2],[22.324,56.9],[22.474,56.6],[22.624,56.3],[22.848,56.1],[23.148,56.0],[23.5,56.0]];
const BV_ZOOM = [[21.5,67.3],[21.575,67.5],[21.635,67.8],[21.71,67.2],[21.785,68.3],[21.845,69.6],[21.919,69.8],[21.979,70.9],[22.054,72.0],[22.099,72.8],[22.159,75.4],[22.219,76.5],[22.264,78.4],[22.324,78.7],[22.399,79.5],[22.459,79.1],[22.519,77.6],[22.564,76.5],[22.609,74.6],[22.669,73.5],[22.728,71.3],[22.788,69.6],[22.848,69.4],[22.923,67.5],[22.998,66.8],[23.073,65.8],[23.148,65.1],[23.238,64.9],[23.328,64.6],[23.418,64.3],[23.5,64.2]];
const BVE_ZOOM = [[21.5,81.7],[21.545,83.0],[21.597,84.3],[21.65,83.6],[21.695,82.7],[21.74,84.3],[21.8,85.4],[21.815,87.7],[21.86,84.3],[21.89,86.6],[21.949,85.1],[21.994,83.6],[22.054,85.1],[22.099,85.4],[22.159,85.1],[22.219,88.1],[22.279,89.2],[22.339,88.4],[22.399,86.9],[22.459,89.2],[22.504,88.1],[22.549,85.4],[22.609,85.1],[22.669,84.0],[22.728,82.5],[22.788,82.5],[22.848,81.7],[22.908,81.0],[22.968,80.6],[23.028,79.5],[23.088,78.4],[23.148,79.1],[23.208,78.7],[23.268,77.6],[23.328,77.6],[23.388,77.2],[23.448,76.5],[23.5,77.2]];
const REF_B = [[22.534, 98.1], [22.489, -1.1]];

// ---------------------------------------------
// STYLES
// ---------------------------------------------
const RED = "#ff0000", SKY = "#00b0f0", GREEN = "#00b050", GOLD = "#ffc000";
const STYLE = {
  Z:    { color: RED,       width: 5.5, dash: null },
  ZE:   { color: RED,       width: 6,   dash: "12,8" },
  ZZr:  { color: SKY,       width: 5.5, dash: null },
  ZZrE: { color: "#0b5aa2", width: 7,   dash: "15,9" },
  ZW:   { color: GREEN,     width: 8,   dash: null },
  ZWE:  { color: "#225c22", width: 7,   dash: "14,9" },
  ZV:   { color: GOLD,      width: 5.5, dash: null },
  ZVE:  { color: "#e36000", width: 6,   dash: "44,18" },
  B:    { color: RED,       width: 5,   dash: null },
  BE:   { color: RED,       width: 6,   dash: "28,20" },
  BZr:  { color: SKY,       width: 5,   dash: null },
  BZrE: { color: "#0d2260", width: 6,   dash: "22,20" },
  BW:   { color: GREEN,     width: 5,   dash: null },
  BWE:  { color: "#225c22", width: 7,   dash: "12,7" },
  BV:   { color: GOLD,      width: 5,   dash: null },
  BVE:  { color: "#e36000", width: 6,   dash: "44,18" }
};

// ---------------------------------------------
// PANELS
// ---------------------------------------------
const svg = d3.select("#chart");

const panels = [
  { box: { l: 171, r: 2301, t: 30, b: 1605 }, domain: [5, 40], ticks: TICKS_WIDE, fmt: d3.format("d"),
    tickPad: 45, title: { x: 1236, y: 1781 }, ylab: { x: 51, y: 782 },
    series: { Z, ZE, ZZr, ZZrE, ZW, ZWE, ZV, ZVE },
    legend: { names: LEGEND_Z, cols: [1085, 1388, 1692, 1996], rows: [77, 156] } },
  { box: { l: 2419, r: 3132, t: 29, b: 1613 }, domain: [22.7, 23.5], ticks: TICKS_ZOOM_Z, fmt: d3.format(".1f"),
    tickPad: 47, title: { x: 2790, y: 1783, clip: 1784 }, ref: REF_Z, narrow: true,
    series: { Z: Z_ZOOM, ZE: ZE_ZOOM, ZZr: ZZr_ZOOM, ZZrE: ZZrE_ZOOM, ZW: ZW_ZOOM, ZWE: ZWE_ZOOM, ZV: ZV_ZOOM, ZVE: ZVE_ZOOM } },
  { box: { l: 162, r: 2309, t: 1839, b: 3417 }, domain: [5, 40], ticks: TICKS_WIDE, fmt: d3.format("d"),
    tickPad: 45, title: { x: 1235, y: 3591 }, ylab: { x: 59, y: 2600 },
    series: { B, BE, BZr, BZrE, BW, BWE, BV, BVE },
    legend: { names: LEGEND_B, cols: [1080, 1382, 1686, 1988], rows: [1882, 1961] } },
  { box: { l: 2432, r: 3147, t: 1836, b: 3427 }, domain: [21.5, 23.5], ticks: TICKS_ZOOM_B, fmt: d3.format(".1f"),
    tickPad: 43, title: { x: 2818, y: 3633 }, ref: REF_B, narrow: true,
    series: { B: B_ZOOM, BE: BE_ZOOM, BZr: BZr_ZOOM, BZrE: BZrE_ZOOM, BW: BW_ZOOM, BWE: BWE_ZOOM, BV: BV_ZOOM, BVE: BVE_ZOOM } }
];

panels.forEach(drawPanel);

function drawPanel(p, i) {
  const { l, r, t, b } = p.box;
  const x = d3.scaleLinear().domain(p.domain).range([l, r]);
  const y = d3.scaleLinear().domain([0, 100]).range([b, t]);
  const g = svg.append("g");

  // raw scans are jagged; the close-ups are smoothed in the original
  const line = d3.line()
    .x(d => x(d[0]))
    .y(d => y(d[1]))
    .curve(p.narrow ? d3.curveMonotoneX : d3.curveLinear);

  // traces
  Object.entries(p.series).forEach(([name, data]) => {
    const s = STYLE[name];
    g.append("path")
      .datum(data)
      .attr("d", line)
      .attr("fill", "none")
      .attr("stroke", s.color)
      .attr("stroke-width", p.narrow ? Math.max(4.5, s.width - 0.5) : s.width)
      .attr("stroke-dasharray", s.dash)
      .attr("stroke-linejoin", "round");
  });

  // vertical reference line in the close-ups
  if (p.ref) {
    g.append("path")
      .datum(p.ref)
      .attr("d", d3.line().x(d => x(d[0])).y(d => y(d[1])))
      .attr("stroke", "#000")
      .attr("stroke-width", 9)
      .attr("stroke-dasharray", "70,24");
  }

  // frame
  const side = p.narrow ? 8 : 7;
  g.append("line").attr("x1", l).attr("x2", r).attr("y1", t).attr("y2", t)
    .attr("stroke", "#000").attr("stroke-width", p.narrow ? 4 : 7);
  g.append("line").attr("x1", l).attr("x2", l).attr("y1", t - 3).attr("y2", b + 2)
    .attr("stroke", "#000").attr("stroke-width", side);
  g.append("line").attr("x1", r).attr("x2", r).attr("y1", t - 3).attr("y2", b + 2)
    .attr("stroke", "#000").attr("stroke-width", side);
  // grey shadow under the bottom axis
  g.append("line").attr("x1", l).attr("x2", r).attr("y1", b + 4).attr("y2", b + 4)
    .attr("stroke", "#8c8c8c").attr("stroke-width", 4);

  // x axis
  const ax = g.append("g")
    .attr("transform", `translate(0,${b})`)
    .call(d3.axisBottom(x).tickValues(p.ticks).tickSize(0).tickPadding(p.tickPad).tickFormat(p.fmt));
  ax.select(".domain").attr("stroke", "#000").attr("stroke-width", 4);
  ax.selectAll("text")
    .attr("font-family", "Liberation Serif, Times New Roman, serif")
    .attr("font-weight", "bold")
    .attr("font-size", 55)
    .attr("fill", "#000");

  // x title
  let tg = g;
  if (p.title.clip) {
    svg.append("clipPath").attr("id", "clipT" + i)
      .append("rect").attr("x", 0).attr("y", 0).attr("width", 3220).attr("height", p.title.clip);
    tg = g.append("g").attr("clip-path", `url(#clipT${i})`);
  }
  tg.append("text")
    .attr("x", p.title.x).attr("y", p.title.y)
    .attr("text-anchor", "middle")
    .attr("font-size", 53)
    .text("2θ (degrees)");

  // y title
  if (p.ylab) {
    g.append("text")
      .attr("transform", `translate(${p.ylab.x},${p.ylab.y}) rotate(-90)`)
      .attr("text-anchor", "middle")
      .attr("font-size", 54)
      .text("Intensity (scaled)");
  }

  // legend
  if (p.legend) {
    const lg = g.append("g");
    p.legend.names.forEach((name, k) => {
      const s = STYLE[name];
      const cx = p.legend.cols[k % 4];
      const cy = p.legend.rows[Math.floor(k / 4)];
      lg.append("line")
        .attr("x1", cx).attr("x2", cx + 120)
        .attr("y1", cy).attr("y2", cy)
        .attr("stroke", s.color)
        .attr("stroke-width", s.width + 1)
        .attr("stroke-dasharray", s.dash);
      lg.append("text")
        .attr("x", cx + 134).attr("y", cy)
        .attr("dy", "0.35em")
        .attr("font-size", 54)
        .text(name);
    });
  }
}
</script>
</body>
</html>
